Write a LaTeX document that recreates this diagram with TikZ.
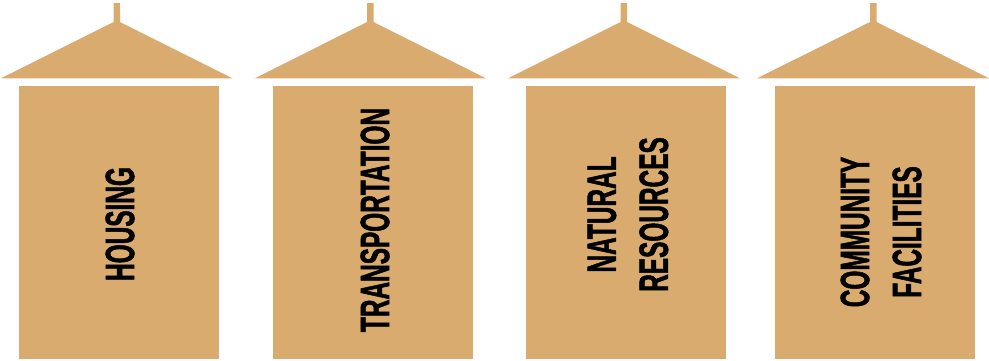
\documentclass[tikz,border=0pt]{standalone}
\usepackage{fontspec}
\newfontfamily\signfont[FakeStretch=0.595,BoldFeatures={FakeBold=1.2}]{Liberation Sans}
\definecolor{sand}{HTML}{D9AB6E}
\tikzset{body/.style={rectangle,fill=sand,draw=none,minimum width=200.5pt,minimum height=273pt,inner sep=0pt}}
\tikzset{roof/.style={fill=sand,draw=none}}
\tikzset{t/.style={draw=none,rotate=90,align=center,inner sep=0pt,text=black,font=\signfont\bfseries\fontsize{41}{52}\selectfont}}
\begin{document}
\begin{tikzpicture}[x=1pt,y=1pt]
      \useasboundingbox (0,0) rectangle (989,360);
      \node[body] (B1) at (119,137.5) {};
      \node[body] (B2) at (373,137.5) {};
      \node[body] (B3) at (626,137.5) {};
      \node[body] (B4) at (875,137.5) {};
      \fill[roof] (1,281.7) -- (113.5,338) -- (113.5,357) -- (120,357) -- (120,338) -- (232.5,281.7) -- cycle;
      \fill[roof] (255,281.7) -- (367,338) -- (367,357) -- (373.5,357) -- (373.5,338) -- (486,281.7) -- cycle;
      \fill[roof] (508,281.7) -- (620.5,338) -- (620.5,357) -- (627,357) -- (627,338) -- (740,281.7) -- cycle;
      \fill[roof] (757,281.7) -- (870,338) -- (870,357) -- (876.5,357) -- (876.5,338) -- (989,281.7) -- cycle;
      \node[t] (T1) at (120,136) {HOUSING};
      \node[t] (T2) at (375,140) {TRANSPORTATION};
      \node[t] (T3) at (628,145.5) {NATURAL\\RESOURCES};
      \node[t] (T4) at (881,128) {COMMUNITY\\FACILITIES};
    \end{tikzpicture}
\end{document}
